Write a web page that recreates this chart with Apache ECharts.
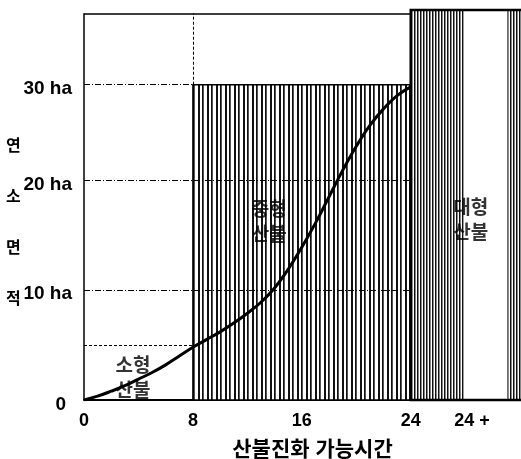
<!DOCTYPE html>
<html>
<head>
<meta charset="utf-8">
<script src="https://cdn.jsdelivr.net/npm/echarts@6/dist/echarts.min.js"></script>
<style>html,body{margin:0;padding:0;background:#fff;overflow:hidden;width:521px;height:459px;}#c{width:521px;height:459px;overflow:hidden;}</style>
</head>
<body>
<div id="c"></div>
<script>
// ---- data ----
const curveX = [0, 1, 2, 3, 4, 5, 6, 7, 8, 9, 10, 11, 12, 13, 14, 15, 16, 17, 18, 19, 20, 21, 22, 23, 24];
const curveY = [0, 0.35, 0.8, 1.3, 1.9, 2.5, 3.2, 4.0, 4.8, 5.5, 6.2, 7.0, 7.9, 8.9, 10.2, 11.9, 13.9, 16.1, 18.5, 20.9, 23.1, 25.0, 26.5, 27.7, 28.5];
const xTickValues = [0, 8, 16, 24, 28.5];
const xTickLabels = ['0', '8', '16', '24', '24 +'];
const yTickValues = [0, 10, 20, 28.7];
const yTickLabels = ['0', '10 ha', '20 ha', '30 ha'];
const regionNames = ['소형\n산불', '중형\n산불', '대형\n산불'];
const regionX = [3.6, 13.6, 28.4];
const regionY = [1.9, 16.1, 16.3];
// region boxes: [x0, x1, yTop]
const smallRegion = [0, 8, 5];
const mediumRegion = [8, 24, 28.7];
const largeRegion = [24, 32.1, 35.5];
const largeWhite = [27.9, 31.1, 35.5];
const frameTop = 35.2;
const xName = '산불진화 가능시간';
const yName = '연\n소\n면\n적';

const FONT = 'Liberation Sans, Arial, Noto Sans CJK KR, sans-serif';

function makePattern(w, cols) {
  const cv = document.createElement('canvas');
  cv.width = w; cv.height = 4;
  const ctx = cv.getContext('2d');
  ctx.fillStyle = '#fff'; ctx.fillRect(0, 0, w, 4);
  cols.forEach(([x, cw, col]) => { ctx.fillStyle = col; ctx.fillRect(x, 0, cw, 4); });
  return cv;
}
const medCanvas = makePattern(9, [[0, 2, '#111'], [4, 1, '#111'], [5, 1, '#555']]);
const largeCanvas = makePattern(3, [[0, 1, '#111'], [1, 1, '#888']]);

// box list: [x0, x1, yTop, kind]  kind: 0 = medium hatch, 1 = large hatch, 2 = outline only, 3 = white
const boxes = [
  [mediumRegion[0], mediumRegion[1], mediumRegion[2], 0],
  [largeRegion[0], largeRegion[1] + 1, largeRegion[2], 1],
  [largeWhite[0], largeWhite[1], largeWhite[2], 3],
  [largeRegion[0], largeRegion[1] + 1, largeRegion[2], 2]
];

const dashDot = [6, 2, 1, 2];
const gl = (a, b, type) => [{ coord: a }, { coord: b, lineStyle: { type: type || dashDot } }];

const option = {
  animation: false,
  backgroundColor: '#fff',
  grid: { left: 84, right: 0, top: 10, bottom: 59, containLabel: false, outerBoundsMode: 'none' },
  graphic: [{
    type: 'text', left: 6, top: 121, silent: true,
    style: { text: yName, fill: '#000', font: 'bold 16px ' + FONT, lineHeight: 51 }
  }],
  xAxis: {
    type: 'value', min: 0, max: largeRegion[1],
    axisLine: { show: true, lineStyle: { color: '#000', width: 2 } },
    axisTick: { show: false },
    splitLine: { show: false },
    axisLabel: {
      customValues: xTickValues,
      formatter: v => xTickLabels[xTickValues.indexOf(v)],
      color: '#000', fontFamily: FONT, fontSize: 18, fontWeight: 'bold', margin: 12
    },
    name: xName, nameLocation: 'middle', nameGap: 40,
    nameTextStyle: { color: '#000', fontFamily: FONT, fontSize: 21, fontWeight: 'bold', padding: [0, 0, 0, 20] }
  },
  yAxis: {
    type: 'value', min: 0, max: largeRegion[2],
    axisLine: { show: false },
    axisTick: { show: false },
    splitLine: { show: false },
    axisLabel: {
      customValues: yTickValues,
      formatter: v => {
        const t = yTickLabels[yTickValues.indexOf(v)];
        return v === 0 ? '{z|' + t + '}' : t;
      },
      color: '#000', fontFamily: FONT, fontSize: 19, fontWeight: 'bold', margin: 12,
      verticalAlign: 'top', lineHeight: 8,
      rich: { z: { fontFamily: FONT, fontSize: 19, fontWeight: 'bold', color: '#000', lineHeight: 10, padding: [0, 6, 0, 0] } }
    }
  },
  series: [
    {
      type: 'custom', z: 1, silent: true, clip: false,
      data: boxes,
      renderItem: (params, api) => {
        const x0 = api.value(0), x1 = api.value(1), yt = api.value(2), kind = api.value(3);
        const p0 = api.coord([x0, 0]);
        const p1 = api.coord([x1, yt]);
        let style;
        if (kind === 2) style = { fill: null, stroke: '#000', lineWidth: 2.5 };
        else if (kind === 0) style = { fill: { image: medCanvas, repeat: 'repeat' }, stroke: '#000', lineWidth: 1.5 };
        else if (kind === 1) style = { fill: { image: largeCanvas, repeat: 'repeat' }, stroke: null, lineWidth: 0 };
        else style = { fill: '#fff', stroke: null, lineWidth: 0 };
        return {
          type: 'rect',
          shape: { x: p0[0], y: p1[1], width: p1[0] - p0[0], height: p0[1] - p1[1] },
          style: style
        };
      }
    },
    {
      type: 'line', data: [], z: 3, silent: true, clip: false,
      markLine: {
        silent: true, symbol: ['none', 'none'], label: { show: false },
        lineStyle: { color: '#000', width: 1 },
        data: [
          gl([0, mediumRegion[2]], [mediumRegion[0], mediumRegion[2]]),
          gl([0, 20], [24, 20]),
          gl([0, 10], [24, 10]),
          gl([0, smallRegion[2]], [smallRegion[1], smallRegion[2]], [3, 2]),
          gl([mediumRegion[0], mediumRegion[2]], [mediumRegion[0], frameTop], [3, 2]),
          [{ coord: [0, 0] }, { coord: [0, frameTop], lineStyle: { type: 'solid', width: 1.5 } }],
          [{ coord: [0, frameTop] }, { coord: [24, frameTop], lineStyle: { type: 'solid', width: 1.5 } }]
        ]
      }
    },
    {
      type: 'line', z: 5, smooth: 0.4, symbol: 'none', silent: true,
      lineStyle: { color: '#000', width: 3 },
      data: curveX.map((x, i) => [x, curveY[i]])
    },
    {
      type: 'scatter', z: 6, symbolSize: 0, silent: true,
      data: regionNames.map((n, i) => ({ name: n, value: [regionX[i], regionY[i]] })),
      label: {
        show: true, position: 'inside', formatter: p => p.name,
        color: '#000', fontFamily: FONT, fontSize: 19, fontWeight: 'bold', lineHeight: 25
      }
    }
  ]
};
const chart = echarts.init(document.getElementById('c'), null, { renderer: 'canvas' });
chart.setOption(option);
</script>
</body>
</html>
